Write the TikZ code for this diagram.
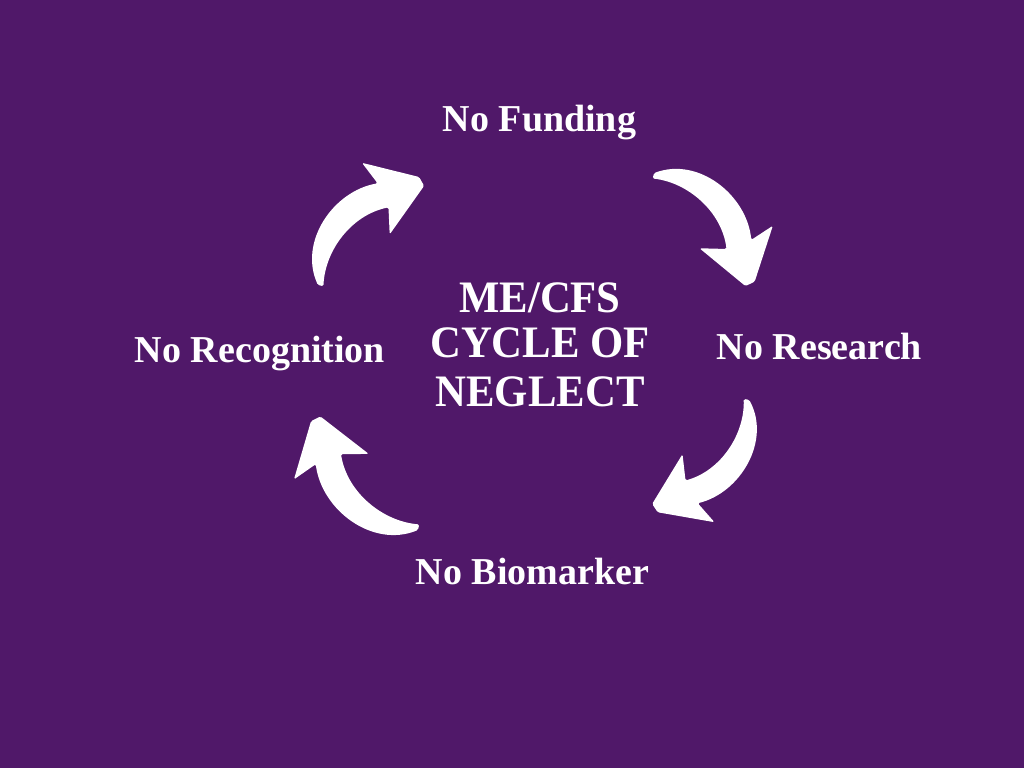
\documentclass[tikz,border=0pt]{standalone}
\usepackage{fontspec}
\setmainfont{Liberation Serif}
\newfontfamily\titlefont{Liberation Serif}[FakeStretch=0.95]
\definecolor{bgpurple}{RGB}{80,24,105}
\tikzset{
  lbl/.style={text=white, font=\fontsize{38}{40}\selectfont\bfseries, inner sep=0pt, anchor=base},
  ttl/.style={text=white, font=\titlefont\fontsize{45}{47}\selectfont\bfseries, inner sep=0pt, anchor=base},
  cyclearrow/.pic={
    \fill[white, rounded corners=1.5pt]
      (0,3) .. controls (18,48) and (80,58) .. (117,31)
      -- (121,57) -- (151,5) -- (148,-5) -- (88,-14) -- (107,6)
      .. controls (75,28) and (30,22) .. (3,-2) -- cycle;
  }
}
\begin{document}
\begin{tikzpicture}[x=1pt,y=1pt]
\useasboundingbox (0,0) rectangle (1024,768);
\fill[bgpurple] (0,0) rectangle (1024,768);

\node[lbl] (funding) at (539.5,636) {No Funding};
\node[lbl] (research) at (819.5,408) {No Research};
\node[lbl] (recognition) at (260,405) {No Recognition};
\node[lbl] (biomarker) at (532.5,183) {No Biomarker};

\node[ttl] (title1) at (540,455) {ME/CFS};
\node[ttl] (title2) at (540,410) {CYCLE OF};
\node[ttl] (title3) at (540,361) {NEGLECT};

\path (320,481) pic[rotate=46.1, scale=0.98] (arrowA) {cyclearrow};
\path (652,593) pic[rotate=-48.0, scale=0.98] (arrowB) {cyclearrow};
\path (747,370) pic[rotate=230.1, scale=0.96] (arrowC) {cyclearrow};
\path (420,240) pic[rotate=133.7, scale=1.01] (arrowD) {cyclearrow};
\end{tikzpicture}
\end{document}
